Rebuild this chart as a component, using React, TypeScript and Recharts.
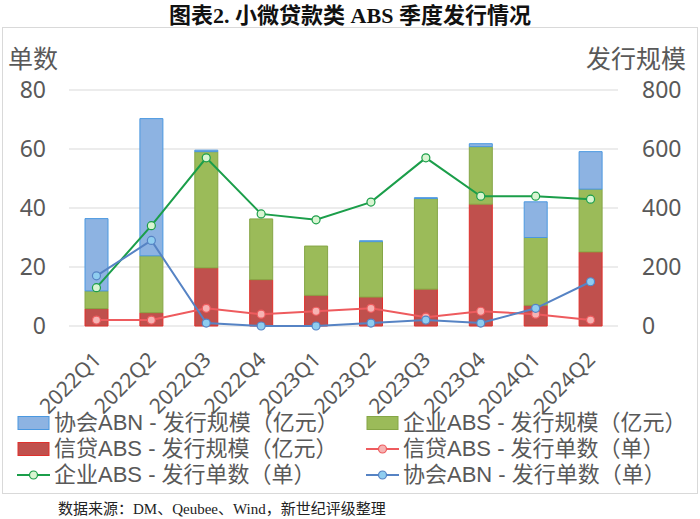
import React from 'react';
import {
  ComposedChart,
  Bar,
  Line,
  XAxis,
  YAxis,
  CartesianGrid,
} from 'recharts';

const quarters = ['2022Q1', '2022Q2', '2022Q3', '2022Q4', '2023Q1', '2023Q2', '2023Q3', '2023Q4', '2024Q1', '2024Q2'];

// 发行规模（亿元） - right axis, stacked
const creditScale = [59, 45, 197, 157, 104, 98, 125, 413, 70, 251];
const corpScale = [60, 193, 394, 206, 167, 188, 307, 195, 230, 213];
const abnScale = [245, 465, 5, 0, 0, 3, 3, 10, 121, 127];

// 发行单数（单） - left axis
const creditCount = [2, 2, 6, 4, 5, 6, 3, 5, 4, 2];
const corpCount = [13, 34, 57, 38, 36, 42, 57, 44, 44, 43];
const abnCount = [17, 29, 1, 0, 0, 1, 2, 1, 6, 15];

const countTicks = [0, 20, 40, 60, 80];
const scaleTicks = [0, 200, 400, 600, 800];

const data = quarters.map((q, i) => ({
  quarter: q,
  creditScale: creditScale[i],
  corpScale: corpScale[i],
  abnScale: abnScale[i],
  creditCount: creditCount[i],
  corpCount: corpCount[i],
  abnCount: abnCount[i],
}));

const BLUE = { fill: '#8db3e2', stroke: '#4a98e0' };
const GREEN = { fill: '#9bbb59', stroke: '#85a646' };
const RED = { fill: '#c0504d', stroke: '#e0302c' };

const GREEN_LINE = { stroke: '#1b9e4a', dot: '#d9f5d2' };
const RED_LINE = { stroke: '#ee5b5e', dot: '#f6b3b3' };
const BLUE_LINE = { stroke: '#5683c4', dot: '#8fcdf0' };

// legend in reading order (two columns)
const legendItems = [
  { label: '协会ABN - 发行规模（亿元）', type: 'bar', ...BLUE },
  { label: '企业ABS - 发行规模（亿元）', type: 'bar', ...GREEN },
  { label: '信贷ABS - 发行规模（亿元）', type: 'bar', ...RED },
  { label: '信贷ABS - 发行单数（单）', type: 'line', ...RED_LINE },
  { label: '企业ABS - 发行单数（单）', type: 'line', ...GREEN_LINE },
  { label: '协会ABN - 发行单数（单）', type: 'line', ...BLUE_LINE },
];

const tickFont = { fontSize: 23, fill: '#595959', fontFamily: '"Noto Sans", sans-serif' };
const cjkFont = '"Noto Sans CJK SC", "Noto Sans", sans-serif';
// latin-first stack keeps the text boxes compact; CJK glyphs fall back to Noto Sans CJK
const legendFont = '"Liberation Sans", "Noto Sans CJK SC", sans-serif';

const QuarterTick = (props: any) => {
  const { x, y, payload } = props;
  return (
    <text
      transform={`translate(${x + 6},${y + 35}) rotate(-45)`}
      textAnchor="end"
      fontSize={21}
      fill="#595959"
      fontFamily='"Noto Sans", sans-serif'
    >
      {payload.value}
    </text>
  );
};

const LegendIcon = ({ item }: { item: any }) => (
  <svg width={33} height={16} style={{ display: 'block', flexShrink: 0 }}>
    {item.type === 'bar' ? (
      <rect x={1} y={1.5} width={31} height={13} fill={item.fill} stroke={item.stroke} strokeWidth={1} />
    ) : (
      <>
        <line x1={0} y1={8} x2={33} y2={8} stroke={item.stroke} strokeWidth={2} />
        <circle cx={16.5} cy={8} r={4} fill={item.dot} stroke={item.stroke} strokeWidth={1.2} />
      </>
    )}
  </svg>
);

export default function App() {
  return (
    <div style={{ position: 'absolute', left: 0, top: 0, width: 700, height: 519, background: '#fff' }}>
      {/* title */}
      <div
        style={{
          position: 'absolute',
          top: 2,
          left: 0,
          width: 700,
          textAlign: 'center',
          fontSize: 22,
          fontWeight: 'bold',
          fontFamily: '"Liberation Serif", "Noto Sans CJK SC", serif',
          color: '#111',
          lineHeight: '28px',
        }}
      >
        图表2. 小微贷款类 ABS 季度发行情况
      </div>

      {/* chart frame */}
      <div
        style={{
          position: 'absolute',
          left: 2,
          top: 27,
          width: 694,
          height: 465,
          border: '1px solid #d9d9d9',
        }}
      />

      {/* axis titles */}
      <div style={{ position: 'absolute', left: 8, top: 40, fontSize: 25, color: '#595959', fontFamily: cjkFont, lineHeight: '34px' }}>
        单数
      </div>
      <div style={{ position: 'absolute', right: 14, top: 40, fontSize: 25, color: '#595959', fontFamily: cjkFont, lineHeight: '34px' }}>
        发行规模
      </div>

      <div style={{ position: 'absolute', left: 0, top: 0 }}>
        <ComposedChart width={700} height={519} data={data} margin={{ top: 90, right: 0, bottom: 0, left: 0 }}>
          <CartesianGrid yAxisId="left" horizontal vertical={false} stroke="#d9d9d9" strokeWidth={1} />
          <XAxis
            dataKey="quarter"
            height={193}
            axisLine={false}
            tickLine={false}
            tickSize={0}
            tickMargin={0}
            interval={0}
            tick={<QuarterTick />}
          />
          <YAxis
            yAxisId="left"
            orientation="left"
            width={69}
            domain={[0, 80]}
            ticks={countTicks}
            axisLine={false}
            tickLine={false}
            tickMargin={17}
            tick={tickFont}
          />
          <YAxis
            yAxisId="right"
            orientation="right"
            width={82}
            domain={[0, 800]}
            ticks={scaleTicks}
            axisLine={false}
            tickLine={false}
            tickMargin={18}
            tick={tickFont}
          />
          <Bar yAxisId="right" dataKey="creditScale" stackId="s" barSize={23} fill={RED.fill} stroke={RED.stroke} strokeWidth={1} isAnimationActive={false} />
          <Bar yAxisId="right" dataKey="corpScale" stackId="s" barSize={23} fill={GREEN.fill} stroke={GREEN.stroke} strokeWidth={1} isAnimationActive={false} />
          <Bar yAxisId="right" dataKey="abnScale" stackId="s" barSize={23} fill={BLUE.fill} stroke={BLUE.stroke} strokeWidth={1} isAnimationActive={false} />
          <Line
            yAxisId="left"
            dataKey="creditCount"
            stroke={RED_LINE.stroke}
            strokeWidth={2}
            dot={{ r: 4, fill: RED_LINE.dot, stroke: RED_LINE.stroke, strokeWidth: 1.2 }}
            isAnimationActive={false}
          />
          <Line
            yAxisId="left"
            dataKey="corpCount"
            stroke={GREEN_LINE.stroke}
            strokeWidth={2}
            dot={{ r: 4, fill: GREEN_LINE.dot, stroke: GREEN_LINE.stroke, strokeWidth: 1.2 }}
            isAnimationActive={false}
          />
          <Line
            yAxisId="left"
            dataKey="abnCount"
            stroke={BLUE_LINE.stroke}
            strokeWidth={2}
            dot={{ r: 4, fill: BLUE_LINE.dot, stroke: BLUE_LINE.stroke, strokeWidth: 1.2 }}
            isAnimationActive={false}
          />
        </ComposedChart>
      </div>

      {/* legend */}
      <div
        style={{
          position: 'absolute',
          left: 17,
          top: 410,
          width: 680,
          display: 'grid',
          gridTemplateColumns: '349px 330px',
          rowGap: 0,
          fontFamily: legendFont,
          fontSize: 22,
          color: '#595959',
        }}
      >
        {legendItems.map((item) => (
          <div key={item.label} style={{ display: 'flex', alignItems: 'center', height: 26, gap: 4 }}>
            <LegendIcon item={item} />
            <span style={{ whiteSpace: 'nowrap', lineHeight: '24px' }}>{item.label}</span>
          </div>
        ))}
      </div>

      {/* source */}
      <div
        style={{
          position: 'absolute',
          left: 58,
          top: 501,
          fontSize: 15,
          fontFamily: '"Liberation Serif", "Noto Sans CJK SC", serif',
          color: '#222',
          lineHeight: '17px',
        }}
      >
        数据来源：DM、Qeubee、Wind，新世纪评级整理
      </div>
    </div>
  );
}
